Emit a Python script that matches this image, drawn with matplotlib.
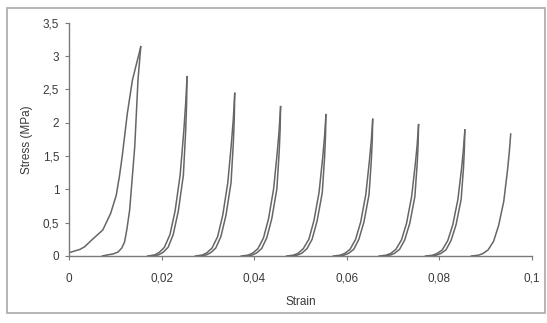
import matplotlib
matplotlib.use("Agg")
import matplotlib.pyplot as plt
from matplotlib.patches import Rectangle
from matplotlib.ticker import FuncFormatter

# Loading branches (strain, stress in MPa) of the nine cycles
load_strain = [
    [0.0, 0.0010, 0.0024, 0.0034, 0.0049, 0.0073, 0.0090, 0.0102, 0.0109,
     0.0115, 0.0126, 0.0137, 0.0155],
    [0.0170, 0.0185, 0.0195, 0.0206, 0.0218, 0.0229, 0.0240, 0.0248, 0.0252, 0.0255],
    [0.0273, 0.0288, 0.0298, 0.0309, 0.0321, 0.0332, 0.0343, 0.0351, 0.0355, 0.0358],
    [0.0372, 0.0387, 0.0397, 0.0408, 0.0420, 0.0431, 0.0442, 0.0450, 0.0454, 0.0457],
    [0.0470, 0.0485, 0.0495, 0.0506, 0.0518, 0.0529, 0.0540, 0.0548, 0.0552, 0.0555],
    [0.0571, 0.0586, 0.0596, 0.0607, 0.0619, 0.0630, 0.0641, 0.0649, 0.0653, 0.0656],
    [0.0670, 0.0685, 0.0695, 0.0706, 0.0718, 0.0729, 0.0740, 0.0748, 0.0752, 0.0755],
    [0.0770, 0.0785, 0.0795, 0.0806, 0.0818, 0.0829, 0.0840, 0.0848, 0.0852, 0.0855],
    [0.0869, 0.0884, 0.0894, 0.0905, 0.0917, 0.0928, 0.0939, 0.0947, 0.0951, 0.0954],
]
load_stress = [
    [0.05, 0.07, 0.10, 0.14, 0.24, 0.39, 0.64, 0.91, 1.20,
     1.50, 2.14, 2.64, 3.14],
    [0.0, 0.016, 0.054, 0.13, 0.32, 0.67, 1.21, 1.88, 2.29, 2.69],
    [0.0, 0.015, 0.049, 0.12, 0.29, 0.61, 1.10, 1.71, 2.07, 2.44],
    [0.0, 0.013, 0.045, 0.11, 0.27, 0.56, 1.01, 1.57, 1.90, 2.24],
    [0.0, 0.013, 0.042, 0.11, 0.25, 0.53, 0.95, 1.48, 1.80, 2.12],
    [0.0, 0.012, 0.041, 0.10, 0.25, 0.51, 0.92, 1.44, 1.74, 2.05],
    [0.0, 0.012, 0.039, 0.10, 0.24, 0.49, 0.89, 1.38, 1.67, 1.97],
    [0.0, 0.011, 0.038, 0.09, 0.23, 0.47, 0.85, 1.32, 1.61, 1.89],
    [0.0, 0.011, 0.037, 0.09, 0.22, 0.46, 0.82, 1.28, 1.56, 1.83],
]

# Unloading branches (the last cycle has no unloading branch)
unload_strain = [
    [0.0155, 0.0149, 0.0142, 0.0131, 0.0125, 0.0120, 0.0114, 0.0106, 0.0095, 0.0082, 0.0072],
    [0.0255, 0.0254, 0.0252, 0.0247, 0.0236, 0.0225, 0.0214, 0.0203, 0.0193, 0.0180],
    [0.0358, 0.0357, 0.0355, 0.0350, 0.0339, 0.0328, 0.0317, 0.0306, 0.0296, 0.0283],
    [0.0457, 0.0456, 0.0454, 0.0449, 0.0438, 0.0427, 0.0416, 0.0405, 0.0395, 0.0382],
    [0.0555, 0.0554, 0.0552, 0.0547, 0.0536, 0.0525, 0.0514, 0.0503, 0.0493, 0.0480],
    [0.0656, 0.0655, 0.0653, 0.0648, 0.0637, 0.0626, 0.0615, 0.0604, 0.0594, 0.0581],
    [0.0755, 0.0754, 0.0752, 0.0747, 0.0736, 0.0725, 0.0714, 0.0703, 0.0693, 0.0680],
    [0.0855, 0.0854, 0.0852, 0.0847, 0.0836, 0.0825, 0.0814, 0.0803, 0.0793, 0.0780],
    [],
]
unload_stress = [
    [3.14, 2.64, 1.64, 0.69, 0.40, 0.21, 0.12, 0.06, 0.03, 0.015, 0.0],
    [2.69, 2.29, 1.88, 1.21, 0.67, 0.32, 0.13, 0.054, 0.016, 0.0],
    [2.44, 2.07, 1.71, 1.10, 0.61, 0.29, 0.12, 0.049, 0.015, 0.0],
    [2.24, 1.90, 1.57, 1.01, 0.56, 0.27, 0.11, 0.045, 0.013, 0.0],
    [2.12, 1.80, 1.48, 0.95, 0.53, 0.25, 0.11, 0.042, 0.013, 0.0],
    [2.05, 1.74, 1.44, 0.92, 0.51, 0.25, 0.10, 0.041, 0.012, 0.0],
    [1.97, 1.67, 1.38, 0.89, 0.49, 0.24, 0.10, 0.039, 0.012, 0.0],
    [1.89, 1.61, 1.32, 0.85, 0.47, 0.23, 0.09, 0.038, 0.011, 0.0],
    [],
]

x_ticks = [0, 0.02, 0.04, 0.06, 0.08, 0.1]
y_ticks = [0, 0.5, 1, 1.5, 2, 2.5, 3, 3.5]

plt.rcParams["font.family"] = ["Liberation Sans", "DejaVu Sans"]

fig = plt.figure(figsize=(5.47, 3.23), dpi=100)
fig.patch.set_facecolor("white")

# Chart-area border
fig.patches.append(Rectangle((7 / 547, 1 - 313 / 323), 538 / 547, 305 / 323,
                             transform=fig.transFigure, fill=False,
                             edgecolor="#b0b0b0", linewidth=1.3))

ax = fig.add_axes([69 / 547, 1 - 256 / 323, 463 / 547, (256 - 22.7) / 323])

line_color = "#666666"
for xs, ys in zip(load_strain, load_stress):
    ax.plot(xs, ys, color=line_color, linewidth=1.1, solid_joinstyle="round")
for xs, ys in zip(unload_strain, unload_stress):
    if xs:
        ax.plot(xs, ys, color=line_color, linewidth=1.1, solid_joinstyle="round")

ax.set_xlim(0, 0.1)
ax.set_ylim(0, 3.5)
ax.set_xticks(x_ticks)
ax.set_yticks(y_ticks)

comma = FuncFormatter(lambda v, _: ("%g" % round(v, 4)).replace(".", ","))
ax.xaxis.set_major_formatter(comma)
ax.yaxis.set_major_formatter(comma)

for side in ("top", "right"):
    ax.spines[side].set_visible(False)
for side in ("left", "bottom"):
    ax.spines[side].set_color("#7a7a7a")
    ax.spines[side].set_linewidth(1.0)

text_color = "#3a3a3a"
ax.tick_params(axis="both", direction="out", length=3, width=0.8,
               color="#7a7a7a", labelsize=8.5, labelcolor=text_color)
ax.tick_params(axis="x", pad=9)
ax.tick_params(axis="y", pad=4)

ax.set_xlabel("Strain", fontsize=8.5, color=text_color, labelpad=8)
ax.set_ylabel("Stress (MPa)", fontsize=8.5, color=text_color, labelpad=7)

fig.savefig("out.png", dpi=100, facecolor="white")
